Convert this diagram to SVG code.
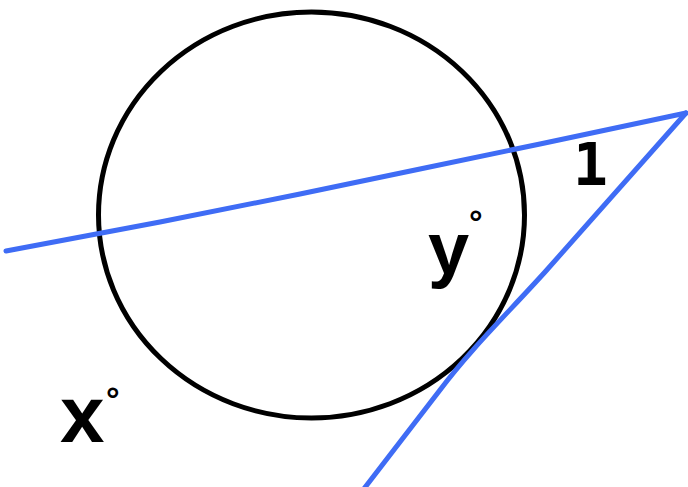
<svg xmlns="http://www.w3.org/2000/svg" width="688" height="487" viewBox="0 0 688 487">
<style>
.blue{fill:none;stroke:#3f6cf5;stroke-width:5;stroke-linecap:round;stroke-linejoin:round}
.circ{fill:none;stroke:#000;stroke-width:5}
.lbl{font-family:"Liberation Sans","DejaVu Sans",sans-serif;fill:#000;font-weight:bold}
.deg{font-family:"Liberation Sans","DejaVu Sans",sans-serif;fill:#000;font-weight:bold;font-size:34px}
</style>
<rect width="688" height="487" fill="#fff"/>
<g id="circle"><ellipse class="circ" cx="311.5" cy="215" rx="213" ry="203"/></g>
<g id="connectors">
<path class="blue" d="M6,251 L160,222 L300,194 L420,169 L540,144 L686,113"/>
<path class="blue" d="M686,113 L545,272 C505,316 470,350 440,390 L363,490"/>
</g>
<g id="label-x"><text class="lbl" x="60" y="442" font-size="80">x</text><text class="deg" x="106" y="411">°</text></g>
<g id="label-y"><text class="lbl" x="428" y="274" font-size="74">y</text><text class="deg" x="469" y="234">°</text></g>
<g id="label-1"><text class="lbl" x="573" y="185" font-size="58" style="font-family:'DejaVu Sans Mono',monospace">1</text></g>
</svg>
